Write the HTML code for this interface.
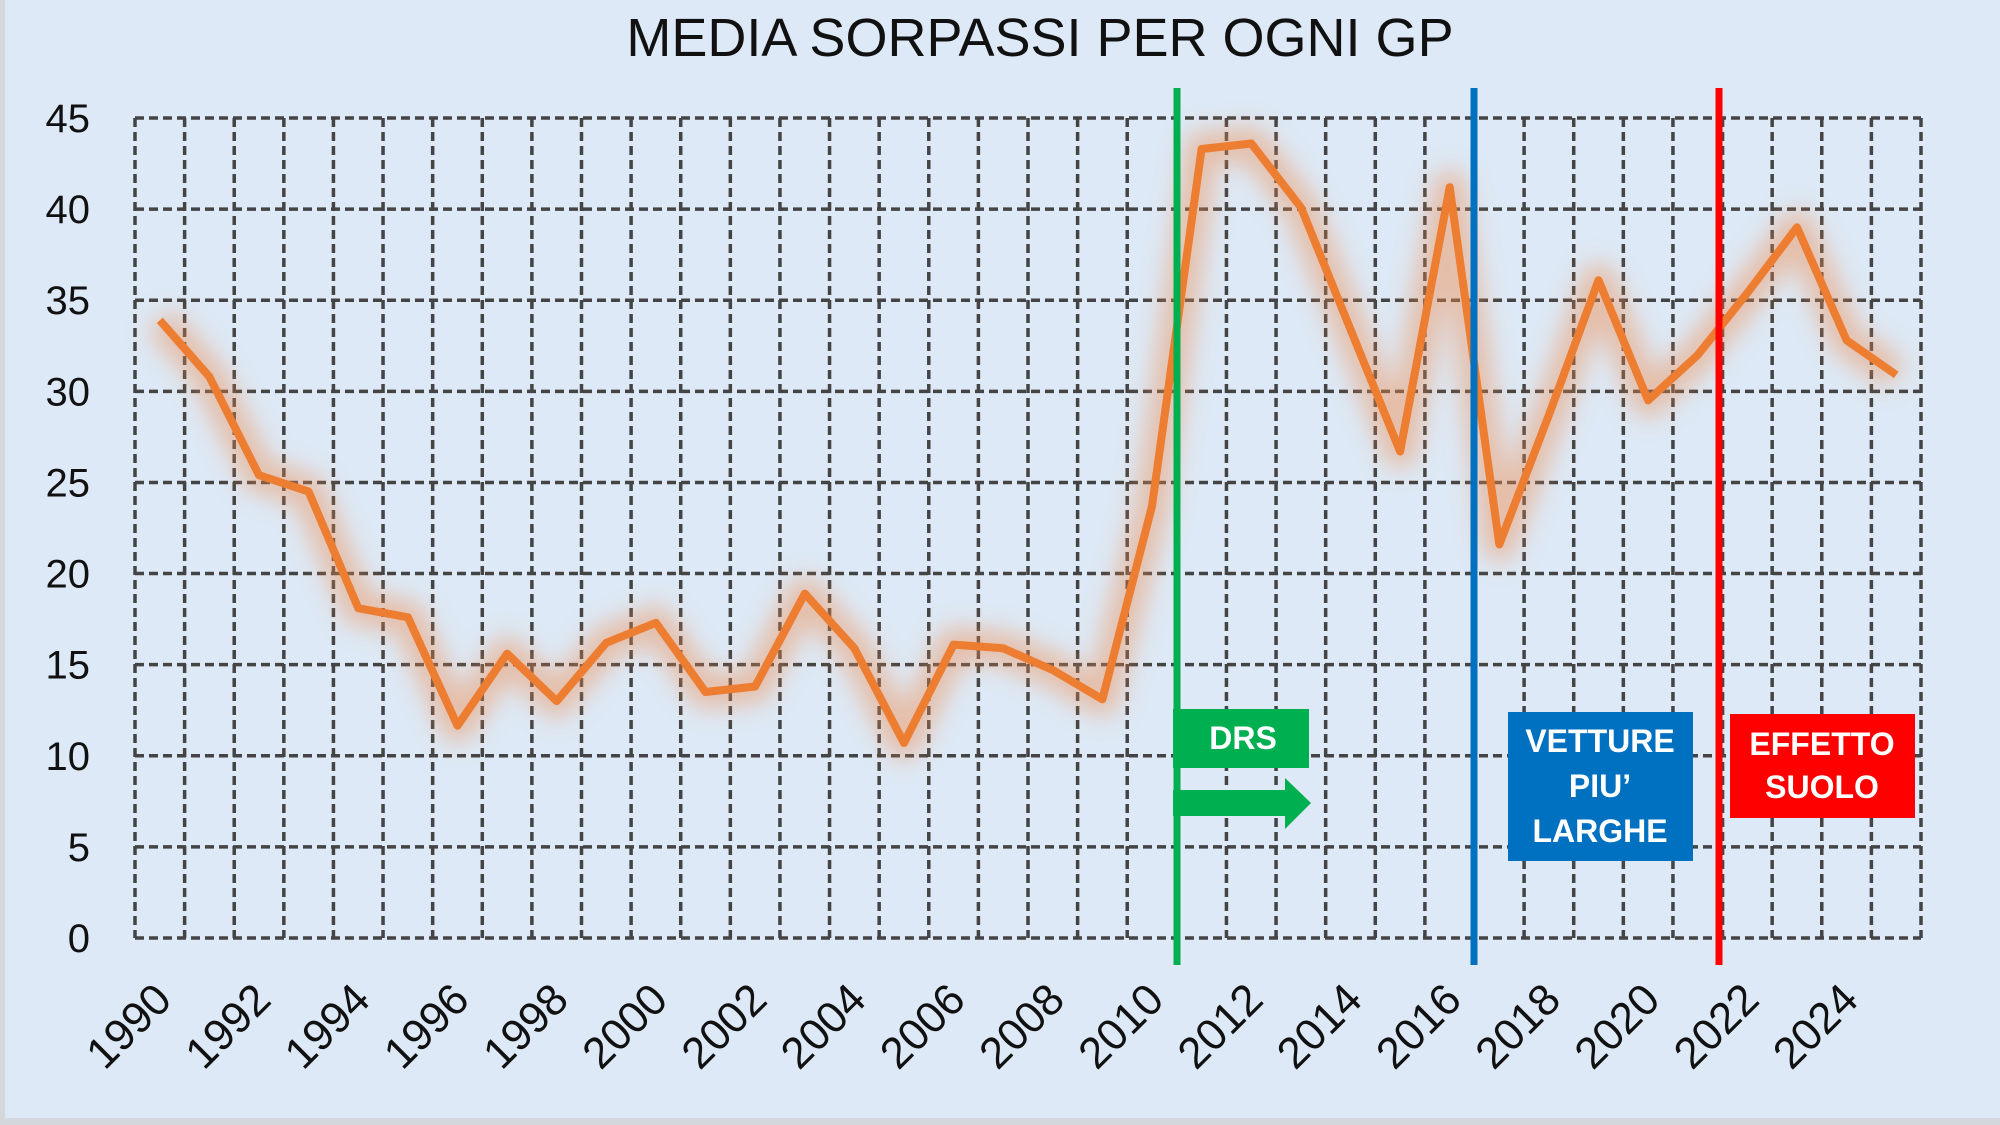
<!DOCTYPE html>
<html><head><meta charset="utf-8"><style>
html,body{margin:0;padding:0;}
body{width:2000px;height:1125px;overflow:hidden;background:#d4d8dc;}
svg{display:block;}
text{font-family:"Liberation Sans",sans-serif;}
</style></head><body>
<svg width="2000" height="1125" viewBox="0 0 2000 1125" xmlns="http://www.w3.org/2000/svg">
<defs>
<filter id="glow" x="-10%" y="-20%" width="120%" height="140%"><feGaussianBlur stdDeviation="12"/></filter>
</defs>
<rect x="5" y="0" width="1995" height="1118" fill="#dde9f6"/>
<text x="1040" y="56" font-size="54" text-anchor="middle" fill="#111">MEDIA SORPASSI PER OGNI GP</text>
<g id="grid" stroke="#444" stroke-width="3.5" stroke-dasharray="9,5" fill="none"></g>
<g id="ylab" font-size="40" fill="#111" text-anchor="end"></g>
<g id="xlab" font-size="44" fill="#111" text-anchor="end"></g>
<path id="glowp" fill="none" stroke="#ef8a4a" stroke-opacity="0.45" stroke-width="34" stroke-linejoin="round" filter="url(#glow)"/>
<path id="line" fill="none" stroke="#ed7d31" stroke-width="8" stroke-linejoin="round"/>
<rect x="1173" y="709" width="136" height="59" fill="#00b050"/>
<text x="1243" y="749" font-size="32" font-weight="bold" fill="#fff" text-anchor="middle">DRS</text>
<polygon points="1173,790 1285,790 1285,778 1311,803 1285,829 1285,816 1173,816" fill="#00b050"/>
<rect x="1508" y="712" width="185" height="149" fill="#0070c0"/>
<g font-size="32" font-weight="bold" fill="#fff" text-anchor="middle">
<text x="1600" y="752">VETTURE</text><text x="1600" y="797">PIU’</text><text x="1600" y="842">LARGHE</text></g>
<rect x="1730" y="714" width="185" height="104" fill="#ff0000"/>
<g font-size="32" font-weight="bold" fill="#fff" text-anchor="middle">
<text x="1822" y="755">EFFETTO</text><text x="1822" y="798">SUOLO</text></g>
<line x1="1177" y1="88" x2="1177" y2="965" stroke="#00b050" stroke-width="7"/>
<line x1="1474" y1="88" x2="1474" y2="965" stroke="#0070c0" stroke-width="7"/>
<line x1="1719" y1="88" x2="1719" y2="965" stroke="#ff0000" stroke-width="7"/>
</svg>
<script>
const L=135,R=1921,T=118,B=938,n=36,w=(R-L)/n;
const ns="http://www.w3.org/2000/svg";
const g=document.getElementById('grid'),yl=document.getElementById('ylab'),xl=document.getElementById('xlab');
function el(t,a,p,txt){const e=document.createElementNS(ns,t);for(const k in a)e.setAttribute(k,a[k]);if(txt!==undefined)e.textContent=txt;p.appendChild(e);}
for(let v=0;v<=45;v+=5){const y=B-(B-T)*v/45;el('line',{x1:L,x2:R,y1:y,y2:y},g);el('text',{x:90,y:y+14},yl,v);}
for(let i=0;i<=n;i++){const x=L+w*i;el('line',{x1:x,x2:x,y1:T,y2:B},g);}
const d=[33.9,30.8,25.4,24.5,18.1,17.6,11.65,15.6,13.0,16.2,17.3,13.5,13.8,18.9,15.9,10.7,16.1,15.9,14.7,13.1,23.7,43.3,43.6,40.1,33.4,26.7,41.2,21.6,28.7,36.1,29.5,32.0,35.4,39.0,32.8,30.9];
let p='';d.forEach((v,i)=>{const x=L+w*(i+0.5),y=B-(B-T)*v/45;p+=(i?'L':'M')+x.toFixed(1)+','+y.toFixed(1);});
document.getElementById('line').setAttribute('d',p);document.getElementById('glowp').setAttribute('d',p);
for(let i=0;i<n;i+=2){const x=L+w*(i+0.5)+14,y=1002;el('text',{x:x,y:y,transform:`rotate(-45 ${x} ${y})`},xl,1990+i);}
</script>
</body></html>
